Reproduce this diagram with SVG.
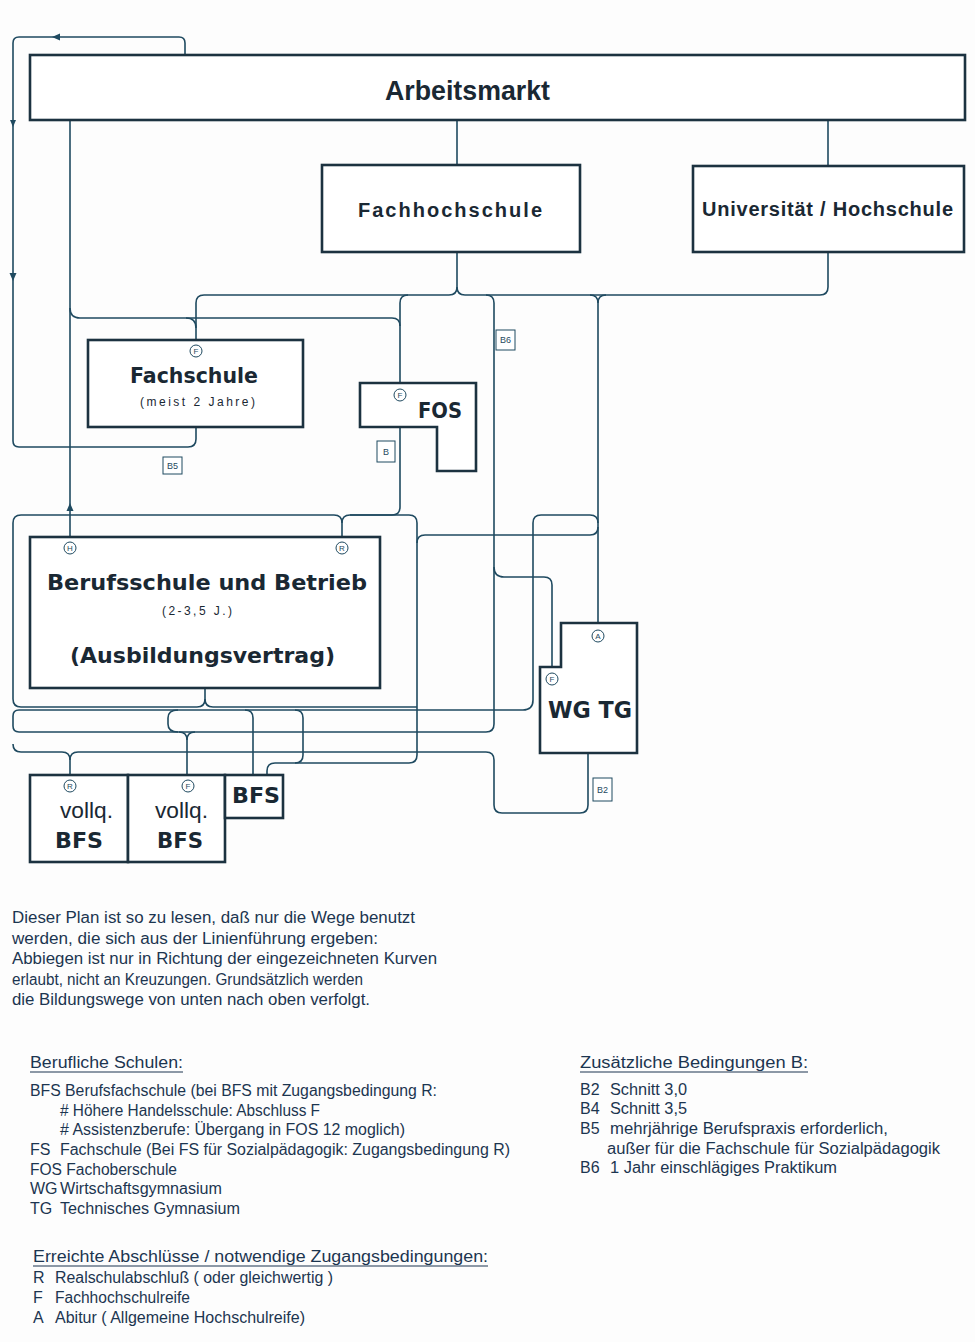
<svg xmlns="http://www.w3.org/2000/svg" width="975" height="1342" viewBox="0 0 975 1342">
<style>
.ln{fill:none;stroke:#1f4a60;stroke-width:1.6}
.bx{fill:#fff;stroke:#1c3240;stroke-width:2.6}
.t{font-family:"Liberation Sans",Arial,sans-serif;fill:#1a2833}
.d{font-family:"DejaVu Sans",Verdana,sans-serif;font-weight:bold;fill:#1a2833}
.b{font-weight:bold}
.ci{fill:#fff;stroke:#1f4a60;stroke-width:1}
.cl{font-family:"Liberation Sans",Arial,sans-serif;font-size:8px;fill:#1f4a60;text-anchor:middle}
.lb{fill:#fff;stroke:#1f4a60;stroke-width:1}
.lt{font-family:"Liberation Sans",Arial,sans-serif;font-size:9px;fill:#1f4a60;text-anchor:middle}
.n{font-family:"Liberation Sans",Arial,sans-serif;font-size:16px;fill:#1c3550}
.ul{stroke:#1c3550;stroke-width:1.2}
</style>
<rect width="975" height="1342" fill="#fdfdfd"/>
<g id="connectors">
<path class="ln" d="M185,55 V43 Q185,37 179,37 H19 Q13,37 13,43 V441 Q13,447 19,447 H188 Q196,447 196,439 V427"/>
<path d="M52,37 l8,-3.5 v7 z" fill="#1f4a60"/>
<path d="M13,127 l-3,-7 h6 z" fill="#1f4a60"/>
<path d="M13,281 l-3.5,-8 h7 z" fill="#1f4a60"/>
<path class="ln" d="M70,120 V537"/>
<path d="M70,503 l-3.5,8 h7 z" fill="#1f4a60"/>
<path class="ln" d="M457,120 V165"/>
<path class="ln" d="M828,120 V166"/>
<path class="ln" d="M196,340 V303 Q196,295 204,295 H449 Q457,295 457,287 V252"/>
<path class="ln" d="M457,287 Q457,295 465,295 H820 Q828,295 828,287 V252"/>
<path class="ln" d="M400,383 V303 Q400,295 408,295"/>
<path class="ln" d="M70,308 Q70,318 80,318 H392 Q400,318 400,326"/>
<path class="ln" d="M186,318 Q196,318 196,328"/>
<path class="ln" d="M590,295 Q598,295 598,303 V623"/>
<path class="ln" d="M606,295 Q598,295 598,303"/>
<path class="ln" d="M486,295 Q494,295 494,303 V724 Q494,732 486,732 H19 Q13,732 13,726 V716 Q13,710 19,710 H523 Q533,710 533,700 V523 Q533,515 541,515 H590 Q598,515 598,523"/>
<path class="ln" d="M590,535 Q598,535 598,527"/>
<path class="ln" d="M590,535 H425 Q417,535 417,543"/>
<path class="ln" d="M494,567 Q494,577 504,577 H544 Q552,577 552,585 V667"/>
<path class="ln" d="M400,427 V507 Q400,515 392,515 H350"/>
<path class="ln" d="M205,688 V699 Q205,707 197,707 H21 Q13,707 13,699 V523 Q13,515 21,515 H334 Q342,515 342,523 V537"/>
<path class="ln" d="M342,523 Q342,515 350,515 H409 Q417,515 417,523 V755 Q417,763 409,763 H275 Q267,763 267,771 V775"/>
<path class="ln" d="M205,699 Q205,707 213,707 H417"/>
<path class="ln" d="M178,710 Q168,710 168,718 V724 Q168,732 178,732"/>
<path class="ln" d="M179,732 Q187,732 187,740 V775"/>
<path class="ln" d="M195,732 Q187,732 187,740"/>
<path class="ln" d="M245,710 Q253,710 253,718 V775"/>
<path class="ln" d="M295,710 Q303,710 303,718 V755 Q303,763 295,763"/>
<path class="ln" d="M13,744 Q13,752 21,752 H62 Q70,752 70,760 V775"/>
<path class="ln" d="M70,760 Q70,752 78,752 H486 Q494,752 494,760 V805 Q494,813 502,813 H580 Q588,813 588,805 V753"/>
<rect class="lb" x="163" y="457" width="19" height="17"/><text class="lt" x="172.5" y="469">B5</text>
<rect class="lb" x="377" y="441" width="18" height="21"/><text class="lt" x="386" y="455">B</text>
<rect class="lb" x="496" y="330" width="19" height="20"/><text class="lt" x="505.5" y="343">B6</text>
<rect class="lb" x="593" y="778" width="19" height="23"/><text class="lt" x="602.5" y="793">B2</text>
</g>
<g id="arbeitsmarkt">
<rect class="bx" x="30" y="55" width="935" height="65"/>
<text class="t b" x="385" y="100" font-size="27" textLength="165" lengthAdjust="spacingAndGlyphs">Arbeitsmarkt</text>
</g>
<g id="fachhochschule">
<rect class="bx" x="322" y="165" width="258" height="87"/>
<text class="t b" x="358" y="217" font-size="20" textLength="184" lengthAdjust="spacing">Fachhochschule</text>
</g>
<g id="universitaet">
<rect class="bx" x="693" y="166" width="271" height="86"/>
<text class="t b" x="702" y="216" font-size="20" textLength="251" lengthAdjust="spacing">Universität / Hochschule</text>
</g>
<g id="fachschule">
<rect class="bx" x="88" y="340" width="215" height="87"/>
<circle class="ci" cx="196" cy="351" r="6"/><text class="cl" x="196" y="354">F</text>
<text class="d" x="130" y="383" font-size="21" textLength="128" lengthAdjust="spacingAndGlyphs">Fachschule</text>
<text class="t" x="140" y="406" font-size="12" textLength="115" lengthAdjust="spacing">(meist 2 Jahre)</text>
</g>
<g id="fos">
<polygon class="bx" points="360,383 476,383 476,471 437,471 437,427 360,427"/>
<circle class="ci" cx="400" cy="395" r="6"/><text class="cl" x="400" y="398">F</text>
<text class="d" x="418" y="418" font-size="21" textLength="44" lengthAdjust="spacingAndGlyphs">FOS</text>
</g>
<g id="berufsschule">
<rect class="bx" x="30" y="537" width="350" height="151"/>
<circle class="ci" cx="70" cy="548" r="6"/><text class="cl" x="70" y="551">H</text>
<circle class="ci" cx="342" cy="548" r="6"/><text class="cl" x="342" y="551">R</text>
<text class="d" x="47" y="590" font-size="21" textLength="320" lengthAdjust="spacingAndGlyphs">Berufsschule und Betrieb</text>
<text class="t" x="162" y="615" font-size="12" textLength="70" lengthAdjust="spacing">(2-3,5 J.)</text>
<text class="d" x="70" y="663" font-size="21" textLength="265" lengthAdjust="spacingAndGlyphs">(Ausbildungsvertrag)</text>
</g>
<g id="wgtg">
<polygon class="bx" points="561,623 637,623 637,753 540,753 540,667 561,667"/>
<circle class="ci" cx="598" cy="636" r="6"/><text class="cl" x="598" y="639">A</text>
<circle class="ci" cx="552" cy="679" r="6"/><text class="cl" x="552" y="682">F</text>
<text class="d" x="548" y="718" font-size="23" textLength="84" lengthAdjust="spacingAndGlyphs">WG TG</text>
</g>
<g id="bfs-r">
<rect class="bx" x="30" y="775" width="98" height="87"/>
<circle class="ci" cx="70" cy="786" r="6"/><text class="cl" x="70" y="789">R</text>
<text class="t" x="60" y="818" font-size="22" textLength="53" lengthAdjust="spacingAndGlyphs">vollq.</text>
<text class="d" x="55" y="848" font-size="21" textLength="48" lengthAdjust="spacingAndGlyphs">BFS</text>
</g>
<g id="bfs-f">
<rect class="bx" x="128" y="775" width="97" height="87"/>
<circle class="ci" cx="188" cy="786" r="6"/><text class="cl" x="188" y="789">F</text>
<text class="t" x="155" y="818" font-size="22" textLength="53" lengthAdjust="spacingAndGlyphs">vollq.</text>
<text class="d" x="157" y="848" font-size="21" textLength="46" lengthAdjust="spacingAndGlyphs">BFS</text>
</g>
<g id="bfs">
<rect class="bx" x="225" y="775" width="58" height="43"/>
<text class="d" x="232" y="803" font-size="21" textLength="48" lengthAdjust="spacingAndGlyphs">BFS</text>
</g>
<g id="note">
<text class="n" x="12" y="923" textLength="403" lengthAdjust="spacingAndGlyphs">Dieser Plan ist so zu lesen, daß nur die Wege benutzt</text>
<text class="n" x="12" y="943.5" textLength="366" lengthAdjust="spacingAndGlyphs">werden, die sich aus der Linienführung ergeben:</text>
<text class="n" x="12" y="964" textLength="425" lengthAdjust="spacingAndGlyphs">Abbiegen ist nur in Richtung der eingezeichneten Kurven</text>
<text class="n" x="12" y="984.5" textLength="351" lengthAdjust="spacingAndGlyphs">erlaubt, nicht an Kreuzungen. Grundsätzlich werden</text>
<text class="n" x="12" y="1005" textLength="358" lengthAdjust="spacingAndGlyphs">die Bildungswege von unten nach oben verfolgt.</text>
</g>
<g id="legend-schulen">
<text class="n" x="30" y="1068" font-size="18" textLength="153" lengthAdjust="spacingAndGlyphs">Berufliche Schulen:</text>
<line class="ul" x1="30" y1="1072" x2="183" y2="1072"/>
<text class="n" x="30" y="1096" textLength="407" lengthAdjust="spacingAndGlyphs">BFS Berufsfachschule (bei BFS mit Zugangsbedingung R:</text>
<text class="n" x="60" y="1116" textLength="260" lengthAdjust="spacingAndGlyphs"># Höhere Handelsschule: Abschluss F</text>
<text class="n" x="60" y="1135" textLength="345" lengthAdjust="spacingAndGlyphs"># Assistenzberufe: Übergang in FOS 12 moglich)</text>
<text class="n" x="30" y="1155">FS</text>
<text class="n" x="60" y="1155" textLength="450" lengthAdjust="spacingAndGlyphs">Fachschule (Bei FS für Sozialpädagogik: Zugangsbedingung R)</text>
<text class="n" x="30" y="1175" textLength="147" lengthAdjust="spacingAndGlyphs">FOS Fachoberschule</text>
<text class="n" x="30" y="1194">WG</text>
<text class="n" x="60" y="1194" textLength="162" lengthAdjust="spacingAndGlyphs">Wirtschaftsgymnasium</text>
<text class="n" x="30" y="1214">TG</text>
<text class="n" x="60" y="1214" textLength="180" lengthAdjust="spacingAndGlyphs">Technisches Gymnasium</text>
</g>
<g id="legend-bedingungen">
<text class="n" x="580" y="1068" font-size="18" textLength="228" lengthAdjust="spacingAndGlyphs">Zusätzliche Bedingungen B:</text>
<line class="ul" x1="580" y1="1072" x2="808" y2="1072"/>
<text class="n" x="580" y="1095">B2</text>
<text class="n" x="610" y="1095" textLength="77" lengthAdjust="spacingAndGlyphs">Schnitt 3,0</text>
<text class="n" x="580" y="1114">B4</text>
<text class="n" x="610" y="1114" textLength="77" lengthAdjust="spacingAndGlyphs">Schnitt 3,5</text>
<text class="n" x="580" y="1134">B5</text>
<text class="n" x="610" y="1134" textLength="278" lengthAdjust="spacingAndGlyphs">mehrjährige Berufspraxis erforderlich,</text>
<text class="n" x="607" y="1154" textLength="333" lengthAdjust="spacingAndGlyphs">außer für die Fachschule für Sozialpädagogik</text>
<text class="n" x="580" y="1173">B6</text>
<text class="n" x="610" y="1173" textLength="227" lengthAdjust="spacingAndGlyphs">1 Jahr einschlägiges Praktikum</text>
</g>
<g id="legend-abschluesse">
<text class="n" x="33" y="1262" font-size="18" textLength="455" lengthAdjust="spacingAndGlyphs">Erreichte Abschlüsse / notwendige Zugangsbedingungen:</text>
<line class="ul" x1="33" y1="1266" x2="488" y2="1266"/>
<text class="n" x="33" y="1283">R</text>
<text class="n" x="55" y="1283" textLength="278" lengthAdjust="spacingAndGlyphs">Realschulabschluß ( oder gleichwertig )</text>
<text class="n" x="33" y="1303">F</text>
<text class="n" x="55" y="1303" textLength="135" lengthAdjust="spacingAndGlyphs">Fachhochschulreife</text>
<text class="n" x="33" y="1323">A</text>
<text class="n" x="55" y="1323" textLength="250" lengthAdjust="spacingAndGlyphs">Abitur ( Allgemeine Hochschulreife)</text>
</g>
</svg>
